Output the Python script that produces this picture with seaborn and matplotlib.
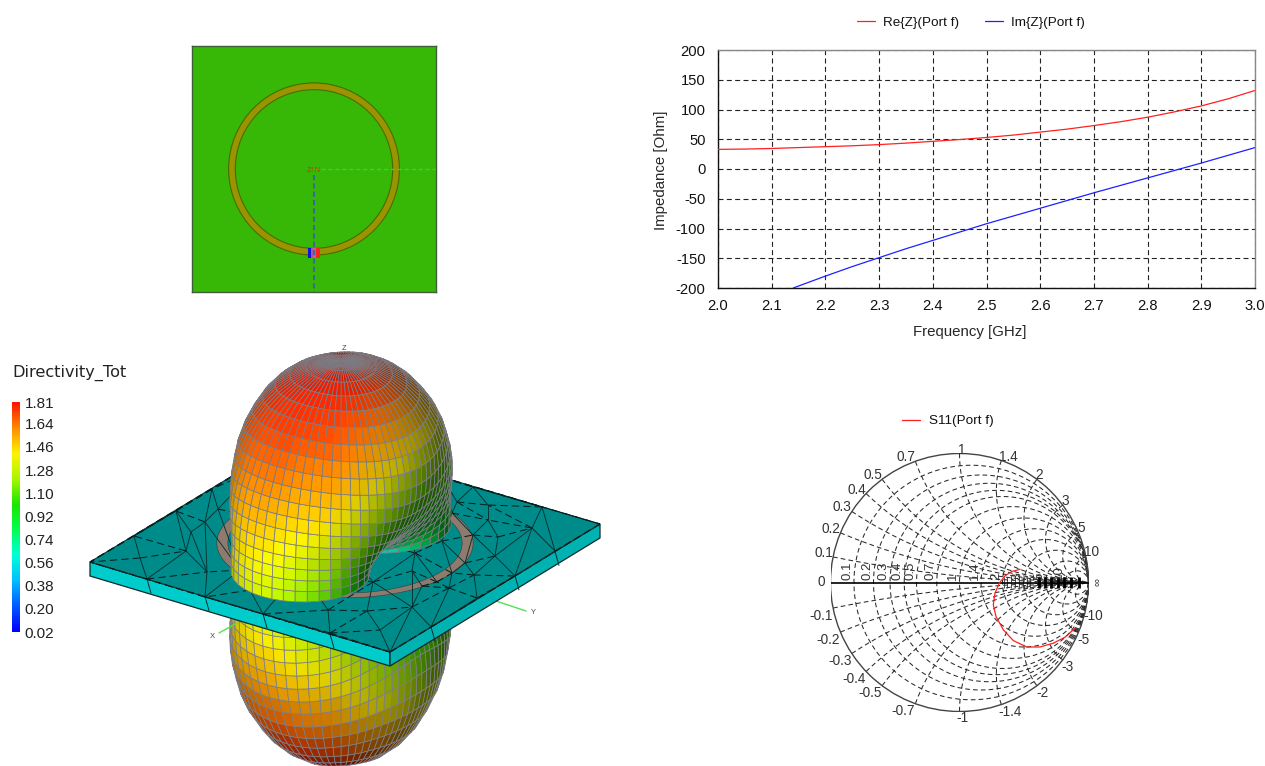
import numpy as np
import pandas as pd
import matplotlib
matplotlib.use("Agg")
import matplotlib.pyplot as plt
import matplotlib.tri as mtri
from matplotlib.collections import PolyCollection, LineCollection
from matplotlib.colors import LinearSegmentedColormap
from matplotlib.patches import Circle, Rectangle, Polygon
import seaborn as sns

# ---------- impedance chart ----------
freq_re = [2.0, 2.05, 2.1, 2.15, 2.2, 2.25, 2.3, 2.35, 2.4, 2.45, 2.5, 2.55, 2.6, 2.65, 2.7, 2.75, 2.8, 2.85, 2.9, 2.95, 3.0]
re_z = [33, 33.5, 34.5, 36, 37.5, 39, 41, 43.5, 46.5, 49.5, 53, 57, 62, 67, 73, 79.5, 87, 96, 106, 118, 132]
freq_im = [2.14, 2.2, 2.25, 2.3, 2.35, 2.4, 2.45, 2.5, 2.55, 2.6, 2.65, 2.7, 2.75, 2.8, 2.85, 2.9, 2.95, 3.0]
im_z = [-200, -180, -164, -149, -134, -120, -106, -92, -79, -66, -53, -40, -27.5, -15, -2.5, 10, 23, 36]
freq_ticks = [2.0, 2.1, 2.2, 2.3, 2.4, 2.5, 2.6, 2.7, 2.8, 2.9, 3.0]
imp_ticks = [-200, -150, -100, -50, 0, 50, 100, 150, 200]

# ---------- Smith chart ----------
s11_re = [.47, .405, .353, .309, .275, .262, .283, .34, .417, .52, .624, .728, .818, .896]
s11_im = [.103, .085, .052, -.005, -.083, -.173, -.264, -.367, -.45, -.50, -.50, -.47, -.424, -.354]
smith_r = [0.1, 0.2, 0.3, 0.4, 0.5, 0.7, 1, 1.4, 2, 3, 5, 10]
smith_x = [0.1, 0.2, 0.3, 0.4, 0.5, 0.7, 1, 1.4, 2, 3, 5, 10]
smith_r_labels = ["0.1", "0.2", "0.3", "0.4", "0.5", "0.7", "1", "1.4", "2", "3", "5", "10"]
axis_thin_marks = [.346, .37, .40, .43, .46, .49, .52, .55]
axis_block_marks = [.62, .665, .71, .76, .81, .865, .925]

# ---------- radiation pattern ----------
theta_deg = [0, 15, 30, 45, 60, 75, 90]
phi_deg = [0, 30, 60, 90]
lobe_radius = [
    [1.81, 1.81, 1.81, 1.81],
    [1.76, 1.75, 1.74, 1.74],
    [1.63, 1.60, 1.55, 1.53],
    [1.47, 1.41, 1.29, 1.23],
    [1.34, 1.24, 1.00, 0.86],
    [1.25, 1.10, 0.73, 0.45],
    [1.22, 1.07, 0.60, 0.02],
]
# surface directivity: one row per theta, one column per 30 degrees of phi
directivity = [
    [1.81, 1.81, 1.81, 1.81, 1.81, 1.81, 1.81, 1.81, 1.81, 1.81, 1.81, 1.81],
    [1.79, 1.78, 1.76, 1.72, 1.72, 1.72, 1.72, 1.72, 1.72, 1.75, 1.78, 1.79],
    [1.74, 1.70, 1.58, 1.48, 1.45, 1.50, 1.50, 1.50, 1.50, 1.62, 1.70, 1.72],
    [1.64, 1.55, 1.34, 1.18, 1.16, 1.30, 1.30, 1.30, 1.30, 1.45, 1.58, 1.62],
    [1.52, 1.38, 1.12, 1.00, 1.02, 1.10, 1.10, 1.10, 1.10, 1.30, 1.46, 1.50],
    [1.40, 1.22, 0.98, 0.80, 0.90, 1.00, 1.00, 1.00, 1.00, 1.20, 1.40, 1.42],
    [1.30, 1.10, 0.85, 0.30, 0.70, 0.90, 0.90, 0.90, 0.90, 1.15, 1.34, 1.36],
]
scale_ticks = [1.81, 1.64, 1.46, 1.28, 1.10, 0.92, 0.74, 0.56, 0.38, 0.20, 0.02]
scale_colors = [(0, 0, 1), (0, .35, 1), (0, .75, 1), (0, 1, .85), (0, 1, .3), (.1, .9, 0),
                (.65, .97, 0), (1, .95, 0), (1, .55, 0), (1, .08, 0)]

# ---------- substrate mesh nodes as seen on the picture ----------
plate_left, plate_front, plate_right, plate_back = (90, 562), (390, 652), (600, 524), (300, 435)
mesh_px = [90, 134, 176, 212, 218, 205, 191, 186, 207, 147, 140, 205, 263, 473, 488, 488, 542, 532, 600, 498, 555, 495,
           473, 457, 452, 442, 415, 465, 452, 412, 437, 474, 515, 449, 422, 477, 412, 367, 373, 431, 380, 390,
           330, 328, 300, 443, 255, 300, 350, 400, 270, 240, 330, 300, 250]
mesh_py = [562, 536, 511, 489, 509, 522, 532, 551, 572, 579, 558, 597, 614, 487, 505, 520, 507, 528, 524, 537, 551, 556,
           535, 502, 513, 541, 553, 563, 573, 571, 582, 575, 576, 588, 586, 598, 607, 611, 582, 627, 630, 652,
           633, 610, 435, 478, 470, 480, 465, 490, 520, 570, 530, 570, 590]
side_nodes_x = [147, 205, 263, 330, 431, 515, 555]
ring_outer, ring_inner = 0.70, 0.64

W, H = 1265, 766
sns.set_theme(style="white")
plt.rcParams["font.family"] = ["Liberation Sans", "DejaVu Sans"]
plt.rcParams["text.color"] = "#111111"
plt.rcParams["axes.unicode_minus"] = False
fig = plt.figure(figsize=(W / 100, H / 100), dpi=100, facecolor="white")


def px_axes(l, t, r, b, **kw):
    return fig.add_axes([l / W, 1 - b / H, (r - l) / W, (b - t) / H], **kw)


DASH = (0, (4.5, 3))
# ========== canvas for the 3D view ==========
cv = px_axes(0, 0, W, H)
cv.set_xlim(0, W)
cv.set_ylim(H, 0)
cv.axis("off")
cmap = LinearSegmentedColormap.from_list("cst", scale_colors)

OX, OY, A = 341, 548, 0.62
KUP, KLOW = 103, 116
view = np.array([150 * A * KUP, 105 * A * KUP, (105 * 45 + 150 * 64) * A * A], float)
view /= np.linalg.norm(view)
light = view + np.array([0.2, -0.35, 0.1])
light /= np.linalg.norm(light)
D2 = np.array(lobe_radius) ** 2
u_knots = np.cos(np.radians(theta_deg)) ** 2
w_knots = np.cos(np.radians(phi_deg)) ** 2
Dir = np.array(directivity)


def radius(th, ph):
    u = np.cos(th) ** 2
    w = np.cos(ph) ** 2
    cols = [np.interp(u, u_knots[::-1], D2[::-1, j]) for j in range(4)]
    order = np.argsort(w_knots)
    out = np.zeros_like(th)
    ws = w_knots[order]
    for i in range(3):
        lo, hi = ws[i], ws[i + 1]
        m = (w >= lo) & (w <= hi)
        t = (w[m] - lo) / (hi - lo)
        out[m] = cols[order[i]][m] * (1 - t) + cols[order[i + 1]][m] * t
    return np.sqrt(np.maximum(out, 0.0004))


def surface_value(th_d, ph_d):
    cols = np.stack([np.interp(th_d, theta_deg, Dir[:, j]) for j in range(12)], 0)
    p = (ph_d % 360) / 30.0
    i0 = np.floor(p).astype(int) % 12
    i1 = (i0 + 1) % 12
    t = p - np.floor(p)
    ii, jj = np.indices(th_d.shape)
    return cols[i0, ii, jj] * (1 - t) + cols[i1, ii, jj] * t


def draw_lobe(sign, k, zorder):
    th_d, ph_d = np.meshgrid(np.arange(0, 90.1, 5), np.arange(0, 360.1, 5), indexing="ij")
    th, ph = np.radians(th_d), np.radians(ph_d)
    r = radius(th, ph)
    P = np.stack([r * np.sin(th) * np.cos(ph), r * np.sin(th) * np.sin(ph), sign * r * np.cos(th)], -1)
    sx = OX + A * (-105 * P[..., 0] + 150 * P[..., 1])
    sy = OY + A * (64 * P[..., 0] + 45 * P[..., 1]) - k * P[..., 2]
    d1 = P[1:, 1:] - P[:-1, :-1]
    d2 = P[1:, :-1] - P[:-1, 1:]
    n = np.cross(d1, d2)
    n /= np.maximum(np.linalg.norm(n, axis=-1, keepdims=True), 1e-9)
    C = (P[1:, 1:] + P[:-1, :-1] + P[1:, :-1] + P[:-1, 1:]) / 4
    flip = (n * C).sum(-1) < 0
    n[flip] *= -1
    facing = (n * view).sum(-1)
    lam = np.clip((n * light).sum(-1), 0, 1)
    shade = 0.38 + 0.72 * lam
    val = surface_value(th_d[:-1, :-1] + 2.5, ph_d[:-1, :-1] + 2.5)
    rgba = cmap(np.clip((val - 0.02) / 1.79, 0, 1))
    rgba[..., :3] = np.clip(rgba[..., :3] * shade[..., None], 0, 1)
    depth = (C * view).sum(-1)
    polys, cols, ds = [], [], []
    for i in range(th.shape[0] - 1):
        for j in range(th.shape[1] - 1):
            if facing[i, j] <= 0:
                continue
            polys.append([(sx[i, j], sy[i, j]), (sx[i + 1, j], sy[i + 1, j]),
                          (sx[i + 1, j + 1], sy[i + 1, j + 1]), (sx[i, j + 1], sy[i, j + 1])])
            cols.append(rgba[i, j])
            ds.append(depth[i, j])
    order = np.argsort(ds)
    pc = PolyCollection([polys[i] for i in order], facecolors=[cols[i] for i in order],
                        edgecolors="#7c7c84", linewidths=0.55, zorder=zorder)
    cv.add_collection(pc)


draw_lobe(-1, KLOW, 1)
cv.plot([219, 237], [633, 623], color="#55e055", lw=1, zorder=1.5)
cv.plot([496, 526], [601, 611], color="#55e055", lw=1, zorder=1.5)
for txt, tx, ty in [("X", 212, 637), ("Y", 533, 613), ("Z", 344, 348)]:
    cv.text(tx, ty, txt, fontsize=5.5, color="#444444", ha="center", va="center", zorder=8)

L, F, R, B = map(np.array, (plate_left, plate_front, plate_right, plate_back))
TH = np.array([0, 14])
cv.add_patch(Polygon([L, F, F + TH, L + TH], fc="#00cccc", ec="#0a2a2a", lw=0.9, zorder=2))
cv.add_patch(Polygon([F, R, R + TH, F + TH], fc="#00b2b2", ec="#0a2a2a", lw=0.9, zorder=2))
cv.add_patch(Polygon([L, F, R, B], fc="#008b8b", ec="#0a3a3a", lw=0.8, zorder=2.1))
for nx in side_nodes_x:
    if nx < 390:
        ny = L[1] + (nx - L[0]) * (F[1] - L[1]) / (F[0] - L[0])
    else:
        ny = F[1] + (nx - F[0]) * (R[1] - F[1]) / (R[0] - F[0])
    cv.plot([nx, nx + 4], [ny, ny + 14], color="#0a2a2a", lw=0.7, zorder=2.05)

Cen = (L + R) / 2
ex, ey = (L + F) / 2 - Cen, (F + R) / 2 - Cen
ang = np.radians(np.arange(0, 360.5, 3))
ringo = np.outer(np.cos(ang), ex) * ring_outer + np.outer(np.sin(ang), ey) * ring_outer + Cen
ringi = np.outer(np.cos(ang), ex) * ring_inner + np.outer(np.sin(ang), ey) * ring_inner + Cen
cv.add_patch(Polygon(np.vstack([ringo, ringi[::-1]]), fc="#8f7a6e", ec="#3a3a34", lw=0.4, zorder=2.2))

tri = mtri.Triangulation(mesh_px, mesh_py)
seg_long, seg_short = [], []
mx, my = np.array(mesh_px, float), np.array(mesh_py, float)
for a, b in tri.edges:
    seg = [(mx[a], my[a]), (mx[b], my[b])]
    (seg_long if abs(mx[a] - mx[b]) > 1.6 * abs(my[a] - my[b]) else seg_short).append(seg)
cv.add_collection(LineCollection(seg_short, colors="#06302f", linewidths=0.65, zorder=2.3))
cv.add_collection(LineCollection(seg_long, colors="#04201f", linewidths=0.75, linestyles=[(0, (7, 4))], zorder=2.3))
draw_lobe(1, KUP, 5)

cv.text(12, 373, "Directivity_Tot", fontsize=11.6, family="DejaVu Sans", ha="left", va="center", color="#222222")

# ---- colour scale ----
cb = px_axes(12, 402, 20, 632)
sns.heatmap(np.linspace(1.81, 0.02, 230).reshape(-1, 1), ax=cb, cmap=cmap, vmin=0.02, vmax=1.81, cbar=False,
            xticklabels=False, yticklabels=False)
cb.set_yticks((1.81 - np.array(scale_ticks)) / 1.79 * 230)
cb.yaxis.tick_right()
cb.set_yticklabels([f"{v:.2f}" for v in scale_ticks], rotation=0, fontsize=11, color="#222222")
cb.tick_params(axis="y", length=0, pad=3.5)
cb.set_xlabel("")
cb.set_ylabel("")

# ========== top view ==========
tv = px_axes(192, 46, 436, 292)
tv.set_xlim(-1, 1)
tv.set_ylim(-1, 1)
tv.set_xticks([])
tv.set_yticks([])
tv.set_facecolor("#38b806")
for s in tv.spines.values():
    s.set_color("#3f5f3a")
    s.set_linewidth(1)
tv.add_patch(Circle((0, 0), ring_outer, fc="#9a9400", ec="#4a6a00", lw=0.8))
tv.add_patch(Circle((0, 0), 0.645, fc="#38b806", ec="#4a6a00", lw=0.8))
tv.add_patch(Rectangle((-.052, -.72), .041, .08, fc="#1010e0", ec="none"))
tv.add_patch(Rectangle((-.011, -.72), .063, .08, fc="#ff2020", ec="none"))
tv.add_patch(Rectangle((-.022, -.72), .04, .075, fc="#d06a90", ec="none", alpha=.8))
tv.plot([0, 1.02], [0, 0], color="#30d830", lw=1, ls=(0, (3, 2)), clip_on=False)
tv.plot([0, 0], [-.05, -1.01], color="#3a6a90", lw=1.5, ls=(0, (2.5, 1.5)), clip_on=False)
tv.text(0, -.01, "Z\u2191N", color="#d03000", fontsize=5.5, ha="center", va="center")

# ========== impedance ==========
ax = px_axes(718, 50, 1255, 288)
imp = pd.concat([
    pd.DataFrame({"f": freq_re, "z": re_z, "s": "Re{Z}(Port f)"}),
    pd.DataFrame({"f": freq_im, "z": im_z, "s": "Im{Z}(Port f)"}),
])
sns.lineplot(data=imp, x="f", y="z", hue="s", palette=["#ff2020", "#2020ff"], lw=0.9, estimator=None, sort=False,
             ax=ax, zorder=3)
ax.set_xlim(2, 3)
ax.set_ylim(-200, 200)
ax.set_xticks(freq_ticks)
ax.set_xticklabels([f"{v:.1f}" for v in freq_ticks])
ax.set_yticks(imp_ticks)
ax.tick_params(axis="y", length=0, labelsize=10.6, pad=9, labelcolor="#111111")
ax.tick_params(axis="x", length=0, labelsize=10.6, pad=8, labelcolor="#111111")
ax.grid(True, color="#222222", lw=0.8, ls=DASH)
ax.set_axisbelow(True)
ax.set_xlabel("Frequency [GHz]", fontsize=10.8)
ax.set_ylabel("Impedance [Ohm]", fontsize=10.8)
ax.xaxis.set_label_coords((970 - 718) / 537, -(332 - 288) / 238, transform=ax.transAxes)
ax.xaxis.label.set_va("center")
ax.yaxis.set_label_coords(-(718 - 661) / 537, 0.495, transform=ax.transAxes)
ax.yaxis.label.set_va("center")
for name, s in ax.spines.items():
    s.set_visible(True)
    s.set_linewidth(1)
    s.set_color("#111111" if name in ("left", "bottom") else "#888888")
h, l = ax.get_legend_handles_labels()
ax.legend(h, l, ncol=2, loc="center", bbox_to_anchor=(971 / W, 1 - 23 / H), bbox_transform=fig.transFigure,
          frameon=False, fontsize=9.7, handlelength=1.35, handletextpad=0.6, columnspacing=1.9)

# ========== Smith ==========
sm = px_axes(830.5, 453.5, 1088.5, 711.5)
sm.set_xlim(-1, 1)
sm.set_ylim(-1, 1)
sm.axis("off")


def gamma(z):
    return (z - 1) / (z + 1)


param = np.tan(np.linspace(-np.pi / 2 + 1e-3, np.pi / 2 - 1e-3, 600))
grid_kw = dict(color="#2a2a2a", lw=0.75, ls=DASH, zorder=1)
for r in smith_r:
    g = gamma(r + 1j * param)
    sm.plot(g.real, g.imag, **grid_kw)
param_pos = np.tan(np.linspace(0, np.pi / 2 - 1e-3, 400))
for x in smith_x:
    for sgn in (1, -1):
        g = gamma(param_pos + 1j * sgn * x)
        sm.plot(g.real, g.imag, **grid_kw)
        e = gamma(1j * sgn * x)
        if x < 1:
            dx, dy = (-9.5, -4) if sgn > 0 else (-12, 7.5)
        elif x == 1:
            dx, dy = (2, -4) if sgn > 0 else (3, 7)
        elif x == 1.4:
            dx, dy = (7, -3) if sgn > 0 else (8.5, 7)
        else:
            dx, dy = ({2: 2, 3: 2.5, 5: 3, 10: 6}[x], -4.5) if sgn > 0 else ({2: 6, 3: 5, 5: 5, 10: 7}[x], 7.5)
        lab = ("%g" % x) if sgn > 0 else "-%g" % x
        sm.annotate(lab, (e.real, e.imag), xytext=(dx * .72, -dy * .72), textcoords="offset points", ha="center",
                    va="center", fontsize=9.8, color="#333333", annotation_clip=False)
sm.add_patch(Circle((0, 0), 1, fc="none", ec="#444444", lw=1, zorder=2))
sm.plot([-1, 1], [0, 0], color="black", lw=1.2, zorder=2)
sm.annotate("0", (-1, 0), xytext=(-6.5, 0), textcoords="offset points", ha="center", va="center", fontsize=9.8,
            color="#333333", annotation_clip=False)
sm.annotate("\u221e", (1, 0), xytext=(5.5, 0), textcoords="offset points", ha="center", va="center", fontsize=8,
            rotation=90, color="#333333", annotation_clip=False)
for r, lab in zip(smith_r, smith_r_labels):
    g0 = gamma(r)
    sm.annotate(lab, (g0, 0), xytext=(-4.5, 1.5), textcoords="offset points", rotation=90, ha="center", va="bottom",
                fontsize=9.5, color="#333333", annotation_clip=False)
sm.vlines(axis_thin_marks, -0.045, 0.045, color="#333333", lw=0.6, zorder=1.5)
sm.vlines(axis_block_marks, -0.042, 0.042, color="black", lw=2.0, zorder=1.5)

s11 = pd.DataFrame({"re": s11_re, "im": s11_im, "s": "S11(Port f)"})
sns.lineplot(data=s11, x="re", y="im", hue="s", palette=["#ff2020"], estimator=None, sort=False, lw=0.9, ax=sm, zorder=4)
sm.set_xlabel("")
sm.set_ylabel("")
h, l = sm.get_legend_handles_labels()
sm.legend(h, l, loc="center", bbox_to_anchor=(948 / W, 1 - 421 / H), bbox_transform=fig.transFigure, frameon=False,
          fontsize=9.7, handlelength=1.35, handletextpad=0.65)

fig.savefig("out.png", dpi=100, facecolor="white")
